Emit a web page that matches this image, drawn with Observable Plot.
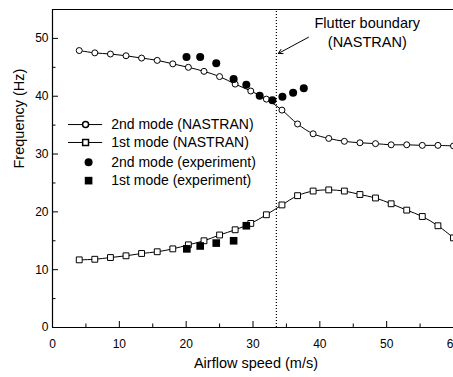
<!DOCTYPE html>
<html><head><meta charset="utf-8">
<script src="https://cdn.jsdelivr.net/npm/d3@7"></script>
<script src="https://cdn.jsdelivr.net/npm/@observablehq/plot@0.6"></script>
<style>
body{margin:0;overflow:hidden;background:#fff;}
#chart svg{overflow:hidden;}
</style>
</head><body><div id="chart"></div>
<script>
// ---- data ----
const speedNastran = [4, 6.33, 8.67, 11, 13.33, 15.67, 18, 20.33, 22.67, 25, 27.33, 29.67, 32, 34.33, 36.67, 39, 41.33, 43.67, 46, 48.33, 50.67, 53, 55.33, 57.67, 60];
const mode2Nastran = [47.9, 47.5, 47.3, 47.0, 46.6, 46.2, 45.6, 45.0, 44.3, 43.4, 42.1, 40.9, 39.5, 37.6, 35.2, 33.5, 32.7, 32.2, 31.95, 31.8, 31.6, 31.6, 31.5, 31.5, 31.4];
const mode1Nastran = [11.7, 11.8, 12.1, 12.4, 12.8, 13.1, 13.6, 14.3, 15.0, 16.0, 16.9, 18.0, 19.5, 21.2, 22.8, 23.6, 23.8, 23.6, 23.0, 22.4, 21.4, 20.3, 19.2, 17.6, 15.5];
const speedExp2 = [20.05, 22.1, 24.5, 27.1, 29.0, 31.0, 32.9, 34.4, 36.0, 37.6];
const mode2Exp = [46.8, 46.8, 45.7, 43.0, 42.0, 40.1, 39.3, 39.9, 40.6, 41.4];
const speedExp1 = [20.1, 22.1, 24.5, 27.1, 29.0];
const mode1Exp = [13.6, 14.1, 14.6, 15.0, 17.6];
const flutterSpeed = 33.5;
const xTicks = [0, 10, 20, 30, 40, 50, 60];
const xMinorTicks = [5, 15, 25, 35, 45, 55];
const yTicks = [0, 10, 20, 30, 40, 50];
const yMinorTicks = [5, 15, 25, 35, 45];
const legendLabels = ["2nd mode (NASTRAN)", "1st mode (NASTRAN)", "2nd mode (experiment)", "1st mode (experiment)"];
const legendRowY = [35.1, 32.0, 28.6, 25.4];
const annotationLines = ["Flutter boundary", "(NASTRAN)"];
const annotationY = [52.6, 49.4];
const annotationX = 47.1;
const arrowFrom = [38.3, 50.2];
const arrowTo = [33.8, 47.4];

// ---- tables ----
const nastran = speedNastran.map((s, i) => ({s, m2: mode2Nastran[i], m1: mode1Nastran[i]}));
const exp2 = speedExp2.map((s, i) => ({s, f: mode2Exp[i]}));
const exp1 = speedExp1.map((s, i) => ({s, f: mode1Exp[i]}));
const legend = legendLabels.map((label, i) => ({label, y: legendRowY[i], i}));
const legendLine = legend.filter(d => d.i < 2);
const font = "'Liberation Sans', Arial, sans-serif";

const W = 453, H = 377, mL = 52, mR = 0, mT = 9, mB = 50;
const fw = W - mL - mR, fh = H - mT - mB;

const plot = Plot.plot({
  width: W, height: H,
  marginLeft: mL, marginRight: mR, marginTop: mT, marginBottom: mB,
  style: {fontFamily: font, fontSize: "12px", color: "#000", background: "#fff"},
  x: {domain: [0, 60]},
  y: {domain: [0, 55]},
  marks: [
    // frame
    Plot.ruleX([0], {stroke: "#000", strokeWidth: 1.2}),
    Plot.ruleY([0], {stroke: "#000", strokeWidth: 1.2}),
    Plot.ruleY([55], {stroke: "#000", strokeWidth: 1.2}),
    // inward ticks
    Plot.tickX(xTicks, {x: d => d, insetTop: fh - 6, stroke: "#000"}),
    Plot.tickX(xMinorTicks, {x: d => d, insetTop: fh - 3.5, stroke: "#000"}),
    Plot.tickY(yTicks, {y: d => d, insetRight: fw - 6, stroke: "#000"}),
    Plot.tickY(yMinorTicks, {y: d => d, insetRight: fw - 3.5, stroke: "#000"}),
    Plot.axisX({ticks: xTicks, tickSize: 0, tickPadding: 12, label: null, fontSize: 12}),
    Plot.axisY({ticks: yTicks, tickSize: 0, tickPadding: 4, label: null, fontSize: 12}),
    Plot.text(["Airflow speed (m/s)"], {frameAnchor: "bottom", dy: 36, dx: 3, lineAnchor: "middle", fontSize: 14.5, fill: "#000"}),
    Plot.text(["Frequency (Hz)"], {frameAnchor: "left", dx: -33, rotate: -90, lineAnchor: "middle", fontSize: 14.5, fill: "#000"}),
    // flutter boundary
    Plot.ruleX([flutterSpeed], {y1: 0, y2: 55, stroke: "#000", strokeDasharray: "1,2", strokeWidth: 1.2}),
    Plot.arrow([0], {x1: () => arrowFrom[0], y1: () => arrowFrom[1], x2: () => arrowTo[0], y2: () => arrowTo[1], stroke: "#000", strokeWidth: 1, headLength: 7}),
    Plot.text(annotationLines, {x: () => annotationX, y: (d, i) => annotationY[i], text: d => d, fontSize: 14.5, fill: "#000", lineAnchor: "middle"}),
    // NASTRAN curves
    Plot.line(nastran, {x: "s", y: "m2", curve: "catmull-rom", stroke: "#000", strokeWidth: 1}),
    Plot.line(nastran, {x: "s", y: "m1", curve: "catmull-rom", stroke: "#000", strokeWidth: 1}),
    Plot.dot(nastran, {x: "s", y: "m2", symbol: "circle", r: 3, fill: "#fff", stroke: "#000", strokeWidth: 1}),
    Plot.dot(nastran, {x: "s", y: "m1", symbol: "square", r: 3.3, fill: "#fff", stroke: "#000", strokeWidth: 1}),
    // experiments
    Plot.dot(exp2, {x: "s", y: "f", symbol: "circle", r: 4, fill: "#000", stroke: "none"}),
    Plot.dot(exp1, {x: "s", y: "f", symbol: "square", r: 4.3, fill: "#000", stroke: "none"}),
    // legend
    Plot.ruleY(legendLine, {y: "y", x1: 2.4, x2: 7.5, stroke: "#000", strokeWidth: 1}),
    Plot.dot(legend.filter(d => d.i === 0), {x: 4.95, y: "y", symbol: "circle", r: 3, fill: "#fff", stroke: "#000"}),
    Plot.dot(legend.filter(d => d.i === 1), {x: 4.95, y: "y", symbol: "square", r: 3.3, fill: "#fff", stroke: "#000"}),
    Plot.dot(legend.filter(d => d.i === 2), {x: 5.4, y: "y", symbol: "circle", r: 4, fill: "#000", stroke: "none"}),
    Plot.dot(legend.filter(d => d.i === 3), {x: 5.4, y: "y", symbol: "square", r: 4.3, fill: "#000", stroke: "none"}),
    Plot.text(legend, {x: 8.78, y: "y", text: "label", textAnchor: "start", lineAnchor: "middle", fontSize: 14, fill: "#000"})
  ]
});
document.getElementById("chart").append(plot);
</script>
</body></html>
